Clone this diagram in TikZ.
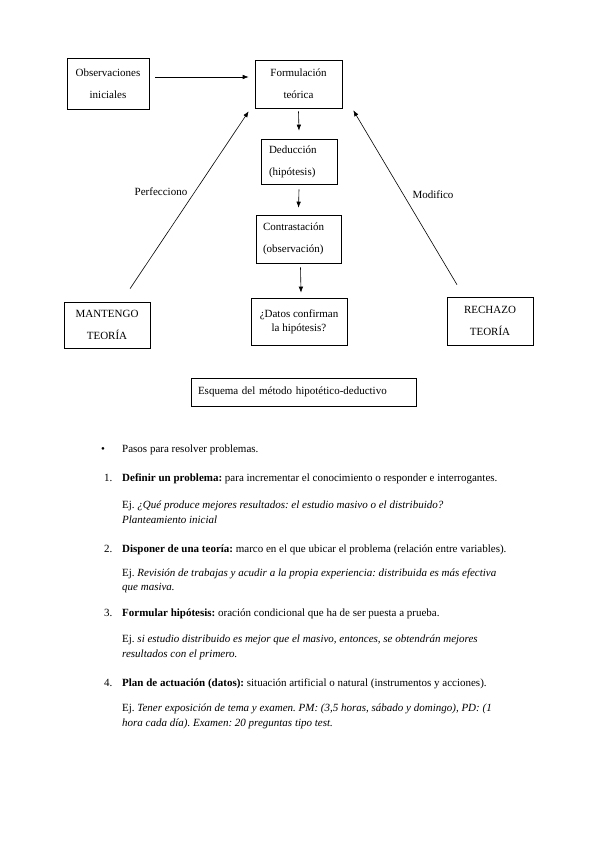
\documentclass[tikz,border=0pt]{standalone}
\usepackage{fontspec}
\setmainfont{Liberation Serif}
\usetikzlibrary{arrows.meta}
\frenchspacing
\newcommand\myboxfont{\fontsize{11}{22}\selectfont}
\newcommand\mytxtfont{\fontsize{11}{13}\selectfont}
\begin{document}
\begin{tikzpicture}[x=1pt,y=-1pt,
  box/.style={draw, line width=0.6pt, inner sep=0pt, font=\myboxfont, align=center},
  arr/.style={-{Latex[length=6pt,width=4.5pt]}, line width=0.6pt},
  lbl/.style={font=\mytxtfont, inner sep=0pt},
  txt/.style={font=\mytxtfont, inner sep=0pt, anchor=base west}]
\useasboundingbox[fill=white] (0,0) rectangle (599,848);

% boxes
\node[box, minimum width=82, minimum height=51] (obs) at (108,83.5) {Observaciones\\iniciales};
\node[box, minimum width=87, minimum height=48] (form) at (298.5,84) {Formulación\\teórica};
\node[box, minimum height=45, align=left, inner xsep=8pt, text width=60pt] (ded) at (299,161.5) {Deducción\\(hipótesis)};
\node[box, minimum height=48, align=left, inner xsep=7pt, text width=71pt] (contr) at (298.5,239) {Contrastación\\(observación)};
\node[box, minimum width=96, minimum height=47, font=\fontsize{11}{14}\selectfont] (datos) at (299,321.5) {¿Datos confirman\\la hipótesis?};
\node[box, minimum width=86, minimum height=48] (rech) at (490,321) {RECHAZO\\TEORÍA};
\node[box, minimum width=86, minimum height=46] (mant) at (107,325) {MANTENGO\\TEORÍA};
\node[box, minimum width=225, minimum height=28, align=left, text width=211, font=\mytxtfont] (esq) at (303.5,392) {Esquema del método hipotético-deductivo};

% labels
\node[lbl] (perf) at (161,192) {Perfecciono};
\node[lbl] (modi) at (433,195) {Modifico};

% connectors
\draw[arr] ([xshift=6pt,yshift=6.5pt]obs.east) -- ([xshift=-6pt,yshift=7pt]form.west);
\draw[arr] ([yshift=-3pt]form.south) -- ([yshift=8pt]ded.north);
\draw[arr] ([yshift=-5pt]ded.south) -- ([yshift=7pt]contr.north);
\draw[arr] ([xshift=2pt,yshift=-4pt]contr.south) -- ([xshift=2pt,yshift=5pt]datos.north);
\draw[arr] ([xshift=23pt,yshift=13pt]mant.north) -- ([xshift=-6pt,yshift=-3pt]form.south west);
\draw[arr] ([xshift=-33pt,yshift=12pt]rech.north) -- ([xshift=11pt,yshift=-2pt]form.south east);

% list
\node[txt] (b0) at (101,452) {•};
\node[txt] (t0) at (122,452) {Pasos para resolver problemas.};

\node[txt] (n1) at (104,481) {1.};
\node[txt] (t1) at (122,481) {\textbf{Definir un problema:} para incrementar el conocimiento o responder e interrogantes.};
\node[txt] (e1a) at (122,508) {Ej. \textit{¿Qué produce mejores resultados: el estudio masivo o el distribuido?}};
\node[txt] (e1b) at (122,523) {\textit{Planteamiento inicial}};

\node[txt] (n2) at (104,552) {2.};
\node[txt] (t2) at (122,552) {\textbf{Disponer de una teoría:} marco en el que ubicar el problema (relación entre variables).};
\node[txt] (e2a) at (122,576) {Ej. \textit{Revisión de trabajas y acudir a la propia experiencia: distribuida es más efectiva}};
\node[txt] (e2b) at (122,590) {\textit{que masiva.}};

\node[txt] (n3) at (104,616) {3.};
\node[txt] (t3) at (122,616) {\textbf{Formular hipótesis:} oración condicional que ha de ser puesta a prueba.};
\node[txt] (e3a) at (122,642) {Ej. \textit{si estudio distribuido es mejor que el masivo, entonces, se obtendrán mejores}};
\node[txt] (e3b) at (122,657) {\textit{resultados con el primero.}};

\node[txt] (n4) at (104,686) {4.};
\node[txt] (t4) at (122,686) {\textbf{Plan de actuación (datos):} situación artificial o natural (instrumentos y acciones).};
\node[txt] (e4a) at (122,711) {Ej. \textit{Tener exposición de tema y examen. PM: (3,5 horas, sábado y domingo), PD: (1}};
\node[txt] (e4b) at (122,726) {\textit{hora cada día). Examen: 20 preguntas tipo test.}};
\end{tikzpicture}
\end{document}
